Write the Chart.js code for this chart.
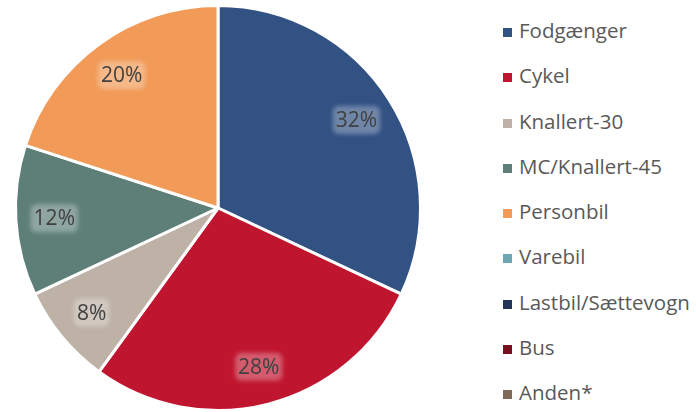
<!DOCTYPE html>
<html>
<head>
<meta charset="utf-8">
<script src="https://cdn.jsdelivr.net/npm/chart.js@4/dist/chart.umd.min.js"></script>
<style>
    body { margin: 0; background: #fff; }
    #wrap { position: relative; width: 696px; height: 412px; }
    #chartBox { position: absolute; left: 0; top: 0; width: 436px; height: 412px; }
    #legend { position: absolute; left: 500px; top: 16px; font-family: "Open Sans", sans-serif; font-size: 20.5px; color: #595959; }
    #legend div { height: 45.3px; display: flex; align-items: flex-start; white-space: nowrap; }
    #legend span.box { display: inline-block; width: 9px; height: 9px; margin: 12px 7px 0 3px; }
</style>
</head>
<body>
<div id="wrap">
    <div id="chartBox"><canvas id="pieChart"></canvas></div>
    <div id="legend"></div>
</div>
<script>
// Data
const categories = ['Fodgænger', 'Cykel', 'Knallert-30', 'MC/Knallert-45', 'Personbil', 'Varebil', 'Lastbil/Sættevogn', 'Bus', 'Anden*'];
const shares = [32, 28, 8, 12, 20, 0, 0, 0, 0];
const colors = ['#325284', '#C0152F', '#BEB2A6', '#5E7F78', '#F29A57', '#6FA6B4', '#223558', '#7A0F1E', '#7F6A5A'];

// Legend (HTML)
const legendEl = document.getElementById('legend');
categories.forEach(function(name, i) {
    const row = document.createElement('div');
    row.innerHTML = '<span class="box" style="background:' + colors[i] + '"></span><span>' + name + '</span>';
    legendEl.appendChild(row);
});

// Percent labels with a soft light glow behind them
const pctLabels = {
    id: 'pctLabels',
    afterDatasetsDraw(chart) {
        const ctx = chart.ctx;
        const meta = chart.getDatasetMeta(0);
        ctx.save();
        ctx.font = '21px "Open Sans", sans-serif';
        ctx.textAlign = 'center';
        ctx.textBaseline = 'middle';
        meta.data.forEach(function(arc, i) {
            if (!shares[i]) return;
            const mid = (arc.startAngle + arc.endAngle) / 2;
            const r = arc.outerRadius * 0.81;
            const x = arc.x + Math.cos(mid) * r;
            const y = arc.y + Math.sin(mid) * r;
            const text = shares[i] + '%';
            const w = ctx.measureText(text).width + 6;
            ctx.save();
            ctx.filter = 'blur(2px)';
            ctx.fillStyle = 'rgba(255,255,255,0.3)';
            ctx.beginPath();
            ctx.roundRect(x - w / 2, y - 14, w, 28, 6);
            ctx.fill();
            ctx.restore();
            ctx.fillStyle = '#404040';
            ctx.fillText(text, x, y + 1);
        });
        ctx.restore();
    }
};

new Chart(document.getElementById('pieChart'), {
    type: 'pie',
    data: {
        labels: categories,
        datasets: [{
            data: shares,
            backgroundColor: colors,
            borderColor: '#ffffff',
            borderWidth: 3
        }]
    },
    options: {
        responsive: true,
        maintainAspectRatio: false,
        animation: false,
        layout: { padding: { top: 4, bottom: 0, left: 8, right: 8 } },
        plugins: {
            legend: { display: false },
            tooltip: { enabled: false }
        }
    },
    plugins: [pctLabels]
});
</script>
</body>
</html>
